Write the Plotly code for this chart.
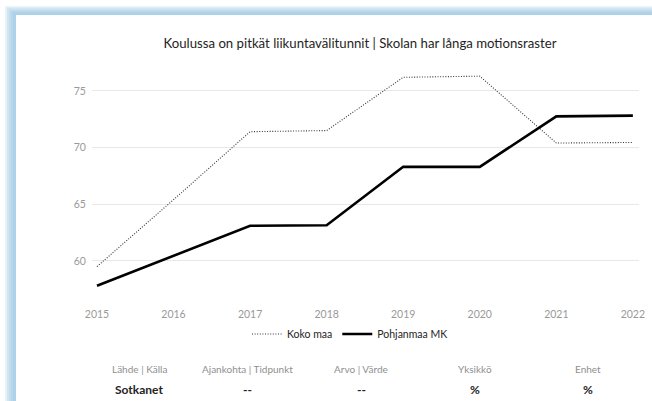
import plotly.graph_objects as go

years = [2015, 2016, 2017, 2018, 2019, 2020, 2021, 2022]
koko_maa = [59.5, 65.4, 71.4, 71.5, 76.2, 76.3, 70.4, 70.45]
pohjanmaa = [57.8, 60.45, 63.1, 63.15, 68.3, 68.3, 72.75, 72.82]

title_text = "Koulussa on pitkät liikuntavälitunnit | Skolan har långa motionsraster"
table_headers = ["Lähde | Källa", "Ajankohta | Tidpunkt", "Arvo | Värde", "Yksikkö", "Enhet"]
table_values = ["Sotkanet", "--", "--", "%", "%"]
table_x_px = [139, 248, 361, 475, 588]

W, H = 652, 401
L, R, T, B = 92, 13, 62, 101
PW, PH = W - L - R, H - T - B


def px(x):
    return (x - L) / PW


def py(y):
    return (H - B - y) / PH


fig = go.Figure()
fig.add_trace(go.Scatter(x=years, y=koko_maa, mode="lines", name="Koko maa",
                         line=dict(color="#333333", width=1.1, dash="1px,1.6px")))
fig.add_trace(go.Scatter(x=years, y=pohjanmaa, mode="lines", name="Pohjanmaa MK",
                         line=dict(color="#000000", width=2.6)))

shapes = []
for d in [11, 9, 7, 5, 3]:
    shapes.append(dict(type="rect", xref="paper", yref="paper", layer="below",
                       x0=px(16 - d), x1=px(W + 20), y0=py(15 - d * 0.8), y1=py(H + 20),
                       fillcolor="rgba(140,190,222,0.22)", line=dict(width=0)))
shapes.append(dict(type="rect", xref="paper", yref="paper", layer="below",
                   x0=px(16), x1=px(W + 20), y0=py(15), y1=py(H + 20),
                   fillcolor="white", line=dict(width=0)))

annotations = []
for hx, ht, vt in zip(table_x_px, table_headers, table_values):
    annotations.append(dict(xref="paper", yref="paper", x=px(hx), y=py(369),
                            text=ht, showarrow=False, xanchor="center", yanchor="middle",
                            font=dict(size=10, color="#8f8f8f", family="Lato")))
    annotations.append(dict(xref="paper", yref="paper", x=px(hx), y=py(389),
                            text="<b>%s</b>" % vt, showarrow=False, xanchor="center", yanchor="middle",
                            font=dict(size=12, color="#252423", family="Lato")))

fig.update_layout(
    width=W, height=H,
    margin=dict(l=L, r=R, t=T, b=B),
    paper_bgcolor="white", plot_bgcolor="rgba(0,0,0,0)",
    font=dict(family="Lato", color="#252423"),
    title=dict(text=title_text, x=360 / W, xanchor="center", y=1 - 43 / H, yanchor="middle",
               font=dict(size=13.2, color="#252423", family="Lato")),
    showlegend=True,
    legend=dict(orientation="h", x=px(350), xanchor="center", y=py(334), yanchor="middle",
                font=dict(size=10.5, color="#252423", family="Lato"), itemwidth=30,
                bgcolor="rgba(0,0,0,0)"),
    xaxis=dict(range=[2014.935, 2022.08], tickvals=years, ticktext=[str(y) for y in years],
               showgrid=False, zeroline=False, showline=False, automargin=False,
               ticks="outside", ticklen=4, tickcolor="rgba(0,0,0,0)",
               tickfont=dict(size=10.5, color="#999999", family="Lato")),
    yaxis=dict(range=[56.55, 77.55], tickvals=[60, 65, 70, 75],
               showgrid=True, gridcolor="#e8e8e8", gridwidth=1, zeroline=False, showline=False,
               automargin=False,
               ticks="outside", ticklen=3, tickcolor="rgba(0,0,0,0)",
               tickfont=dict(size=10.5, color="#999999", family="Lato")),
    shapes=shapes,
    annotations=annotations,
)

fig.write_html("out.html", config={"displayModeBar": False},
               post_script="document.body.style.margin='0';document.body.style.overflow='hidden';")
